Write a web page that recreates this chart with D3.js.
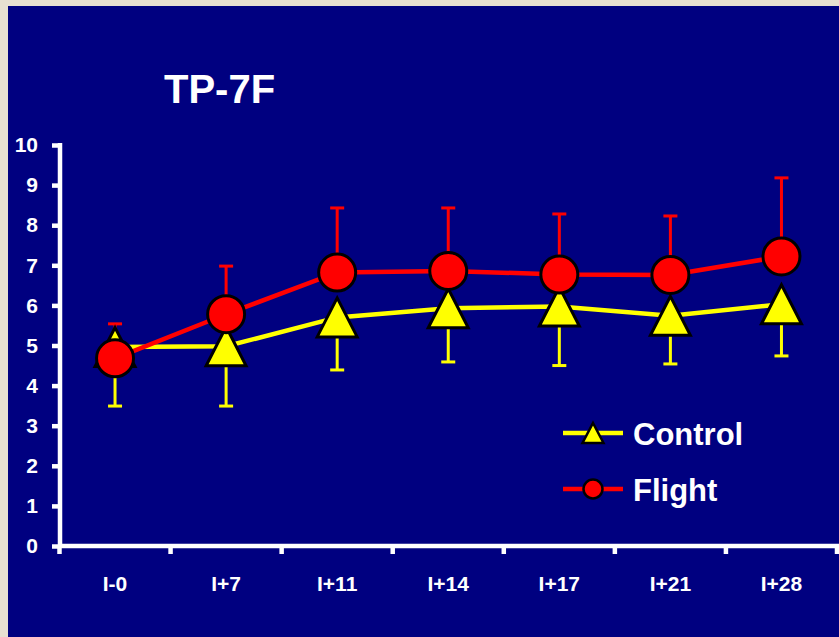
<!DOCTYPE html>
<html><head><meta charset="utf-8">
<script src="https://cdn.jsdelivr.net/npm/d3@7"></script>
<style>html,body{margin:0;padding:0;background:#e7e0d1;}svg{display:block;}</style>
</head><body>
<svg id="chart" width="839" height="637"></svg>
<script>
const categories = ["I-0","I+7","I+11","I+14","I+17","I+21","I+28"];
const controlMean = [4.96, 4.98, 5.70, 5.93, 5.97, 5.74, 6.03];
const controlLow  = [3.49, 3.49, 4.39, 4.59, 4.50, 4.54, 4.74];
const flightMean  = [4.68, 5.78, 6.82, 6.86, 6.77, 6.76, 7.22];
const flightHigh  = [5.54, 6.98, 8.43, 8.43, 8.28, 8.23, 9.18];
const yTicks = [0,1,2,3,4,5,6,7,8,9,10];
const title = "TP-7F";
const seriesNames = ["Control","Flight"];

const svg = d3.select("#chart");
const font = "'Liberation Sans', Arial, sans-serif";

// background
svg.append("rect").attr("x",0).attr("y",0).attr("width",839).attr("height",637).attr("fill","#e7e0d1");
svg.append("rect").attr("x",8).attr("y",6).attr("width",831).attr("height",631).attr("fill","#000080");

const x = d3.scaleBand().domain(categories).range([59.5, 837]).padding(0);
const y = d3.scaleLinear().domain([0,10]).range([546, 145]);
const cx = d => x(d) + x.bandwidth()/2;

// title
svg.append("text").attr("x",164).attr("y",103).attr("fill","#fff")
  .attr("font-family",font).attr("font-weight","bold").attr("font-size",40).text(title);

// y axis
const yAxis = d3.axisLeft(y).tickValues(yTicks).tickSize(8).tickPadding(14).tickFormat(d3.format("d"));
const gy = svg.append("g").attr("transform","translate(60,0)").call(yAxis);
gy.select(".domain").attr("stroke","#fff").attr("stroke-width",4.5).attr("d", `M0,${y(10)-2}V${y(0)+2}`);
gy.selectAll(".tick line").attr("stroke","#fff").attr("stroke-width",4.5);
gy.selectAll(".tick text").attr("fill","#fff").attr("font-family",font).attr("font-weight","bold").attr("font-size",21);

// x axis
const boundaries = categories.map(c => x(c)).concat([x(categories[categories.length-1]) + x.bandwidth()]);
const gx = svg.append("g");
gx.append("line").attr("x1",58).attr("x2",839).attr("y1",y(0)).attr("y2",y(0)).attr("stroke","#fff").attr("stroke-width",4.5);
gx.selectAll("line.tk").data(boundaries).join("line").attr("class","tk")
  .attr("x1",d=>d).attr("x2",d=>d).attr("y1",y(0)).attr("y2",y(0)+8).attr("stroke","#fff").attr("stroke-width",4.5);
gx.selectAll("text").data(categories).join("text")
  .attr("x",d=>cx(d)).attr("y",591).attr("text-anchor","middle").attr("fill","#fff")
  .attr("font-family",font).attr("font-weight","bold").attr("font-size",21).text(d=>d);

const YEL = "#ffff00", RED = "#ff0000";
const capW = 7;

// control error bars (downward)
const gce = svg.append("g");
categories.forEach((c,i)=>{
  gce.append("line").attr("x1",cx(c)).attr("x2",cx(c)).attr("y1",y(controlMean[i])).attr("y2",y(controlLow[i])).attr("stroke",YEL).attr("stroke-width",3);
  gce.append("line").attr("x1",cx(c)-capW).attr("x2",cx(c)+capW).attr("y1",y(controlLow[i])).attr("y2",y(controlLow[i])).attr("stroke",YEL).attr("stroke-width",3);
});
// flight error bars (upward)
const gfe = svg.append("g");
categories.forEach((c,i)=>{
  gfe.append("line").attr("x1",cx(c)).attr("x2",cx(c)).attr("y1",y(flightMean[i])).attr("y2",y(flightHigh[i])).attr("stroke",RED).attr("stroke-width",3);
  gfe.append("line").attr("x1",cx(c)-capW).attr("x2",cx(c)+capW).attr("y1",y(flightHigh[i])).attr("y2",y(flightHigh[i])).attr("stroke",RED).attr("stroke-width",3);
});

const line = d3.line().x((d,i)=>cx(categories[i])).y(d=>y(d));
svg.append("path").datum(controlMean).attr("d",line).attr("fill","none").attr("stroke",YEL).attr("stroke-width",4.5);
svg.append("path").datum(flightMean).attr("d",line).attr("fill","none").attr("stroke",RED).attr("stroke-width",4.5);

function triPath(px,py,w,h){
  return `M${px},${py-h/2}L${px+w/2},${py+h/2}L${px-w/2},${py+h/2}Z`;
}
svg.append("g").selectAll("path").data(controlMean).join("path")
  .attr("d",(d,i)=>triPath(cx(categories[i]), y(d), 40, 39))
  .attr("fill",YEL).attr("stroke","#000").attr("stroke-width",3).attr("stroke-linejoin","miter");
svg.append("g").selectAll("circle").data(flightMean).join("circle")
  .attr("cx",(d,i)=>cx(categories[i])).attr("cy",d=>y(d)).attr("r",18.5)
  .attr("fill",RED).attr("stroke","#000").attr("stroke-width",3);

// legend
const legend = svg.append("g");
const legRows = [{name:seriesNames[0], color:YEL, y:433, shape:"tri"},{name:seriesNames[1], color:RED, y:489, shape:"circ"}];
legRows.forEach(r=>{
  legend.append("line").attr("x1",563).attr("x2",623).attr("y1",r.y).attr("y2",r.y).attr("stroke",r.color).attr("stroke-width",4.5);
  if(r.shape==="tri"){
    legend.append("path").attr("d",triPath(593,r.y,21,20)).attr("fill",r.color).attr("stroke","#000").attr("stroke-width",2.5);
  } else {
    legend.append("circle").attr("cx",593).attr("cy",r.y).attr("r",9.5).attr("fill",r.color).attr("stroke","#000").attr("stroke-width",2.5);
  }
  legend.append("text").attr("x",633).attr("y",r.y+12).attr("fill","#fff").attr("font-family",font)
    .attr("font-weight","bold").attr("font-size",31).text(r.name);
});
</script>
</body></html>
